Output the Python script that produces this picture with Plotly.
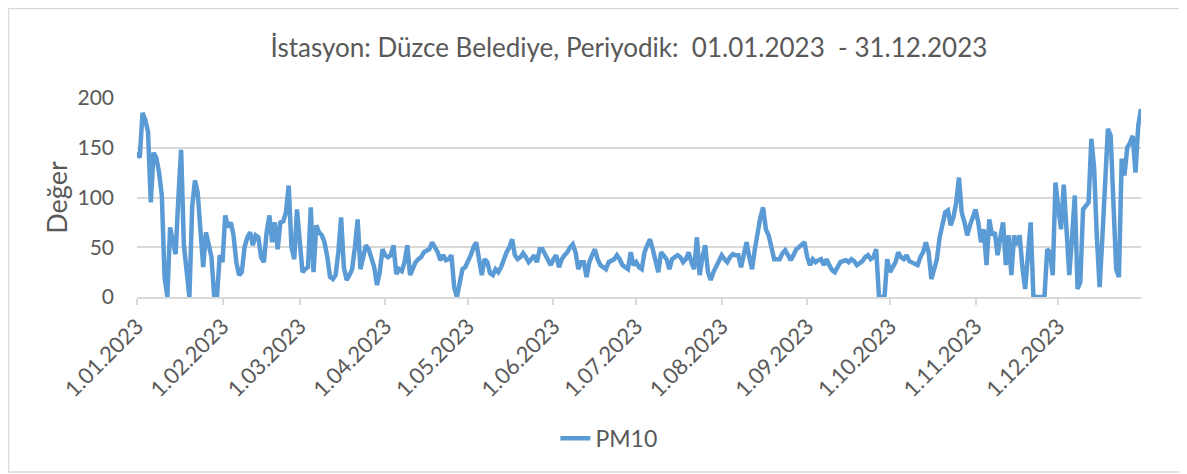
import pandas as pd
import plotly.graph_objects as go

# Daily PM10 values, one list per month (2023)
jan = [146, 140, 185, 178, 166, 95, 145, 140, 125, 102, 20, 0, 70, 55, 43, 100, 148, 52, 30, 0,
       90, 117, 105, 65, 30, 65, 50, 40, 0, 0, 42]
feb = [35, 82, 70, 75, 62, 35, 22, 25, 50, 60, 65, 52, 62, 60, 40, 35, 65, 82, 55, 75,
       48, 75, 76, 85, 112, 50, 38, 88]
mar = [55, 25, 28, 30, 90, 25, 72, 65, 62, 55, 40, 20, 18, 22, 45, 80, 30, 17, 22, 28,
       50, 78, 28, 40, 52, 48, 40, 30, 12, 25, 48]
apr = [42, 40, 42, 52, 23, 28, 26, 35, 52, 22, 28, 35, 38, 40, 45, 46, 48, 55, 50, 45,
       37, 42, 37, 38, 42, 10, 0, 15, 28, 30]
may = [35, 42, 50, 55, 38, 22, 38, 35, 24, 22, 28, 25, 30, 38, 45, 50, 58, 42, 38, 40,
       44, 40, 35, 38, 42, 35, 48, 48, 42, 38, 32]
jun = [38, 42, 30, 38, 42, 45, 50, 53, 45, 28, 35, 35, 20, 35, 42, 48, 38, 32, 30, 28,
       35, 37, 38, 42, 38, 32, 30, 28, 45, 32]
jul = [35, 30, 28, 45, 52, 58, 48, 35, 25, 45, 42, 38, 28, 38, 40, 42, 40, 35, 38, 45,
       35, 28, 60, 22, 40, 52, 25, 17, 25, 30, 35]
aug = [42, 38, 35, 40, 43, 42, 42, 30, 45, 55, 40, 28, 48, 65, 80, 90, 68, 62, 50, 38,
       38, 38, 44, 47, 42, 37, 42, 48, 50, 52, 55]
sep = [40, 32, 38, 35, 37, 38, 32, 38, 32, 27, 25, 30, 35, 36, 37, 35, 38, 36, 32, 34,
       36, 40, 42, 38, 40, 48, 0, 0, 0, 38]
oct_ = [25, 30, 35, 45, 40, 38, 42, 36, 35, 33, 32, 40, 45, 55, 45, 18, 28, 38, 60, 75,
        85, 87, 72, 80, 95, 120, 85, 75, 62, 72, 80]
nov = [88, 75, 55, 68, 32, 78, 62, 65, 42, 60, 75, 32, 62, 22, 62, 52, 62, 30, 8, 42,
       75, 0, 0, 0, 0, 0, 48, 45, 22, 115]
dec = [90, 68, 113, 70, 22, 60, 102, 8, 15, 88, 92, 95, 159, 130, 60, 10, 60, 125, 169, 162,
       100, 28, 20, 139, 122, 150, 155, 162, 125, 172, 189]

months = [jan, feb, mar, apr, may, jun, jul, aug, sep, oct_, nov, dec]
tick_dates = ["2023-%02d-01" % m for m in range(1, 13)]
tick_labels = ["1.%02d.2023" % m for m in range(1, 13)]

values = [v for month in months for v in month]
dates = pd.date_range("2023-01-01", periods=len(values), freq="D")

FONT = "Lato, Open Sans, sans-serif"
GREY = "#595959"
GRID = "#d9d9d9"

fig = go.Figure()
fig.add_trace(go.Scatter(
    x=dates, y=values, mode="lines", name="PM10",
    line=dict(color="#5B9BD5", width=4.5),
))

# page body has an 8px margin, so the figure is sized to fit the window
fig.update_layout(
    width=1179, height=466,
    paper_bgcolor="white", plot_bgcolor="white",
    margin=dict(l=129, r=46, t=90, b=177),
    font=dict(family=FONT, color=GREY, size=21),
    title=dict(
        text="İstasyon: Düzce Belediye, Periyodik:  01.01.2023  - 31.12.2023",
        xref="paper", x=0.49, xanchor="center", y=0.914, yanchor="middle",
        font=dict(family=FONT, size=26, color=GREY),
    ),
    showlegend=True,
    legend=dict(
        orientation="h", x=0.47, xanchor="center", y=-0.71, yanchor="middle",
        font=dict(family=FONT, size=23, color=GREY),
        bgcolor="rgba(0,0,0,0)",
    ),
)

fig.update_xaxes(
    type="date", automargin=False,
    range=["2023-01-01", "2023-12-31"],
    tickmode="array", tickvals=tick_dates, ticktext=tick_labels,
    tickangle=-45, tickfont=dict(size=22, color=GREY),
    showgrid=False, zeroline=False,
    showline=True, linecolor=GRID, linewidth=1.5,
    ticks="outside", ticklen=6, tickcolor=GRID, tickwidth=1.5,
)
fig.update_yaxes(
    automargin=False,
    range=[0, 200], dtick=50, tick0=0,
    showgrid=True, gridcolor=GRID, gridwidth=1.5,
    zeroline=False, showline=False,
    tickfont=dict(size=21, color=GREY),
    ticks="", ticklabelstandoff=22,
    title=dict(text="Değer", font=dict(size=27, color=GREY), standoff=2),
)

# chart frame
fig.add_shape(
    type="rect", xref="paper", yref="paper",
    x0=-0.128, x1=1.044, y0=-0.88, y1=1.45,
    line=dict(color=GRID, width=1.5), fillcolor="rgba(0,0,0,0)", layer="below",
)

fig.write_html("out.html")
